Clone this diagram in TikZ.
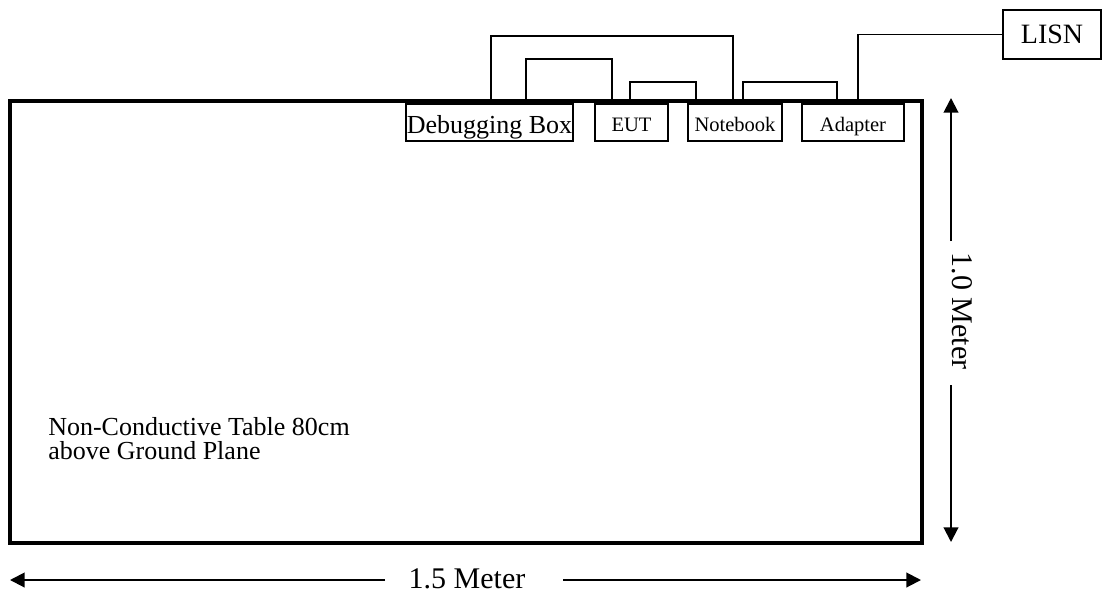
\documentclass[tikz,border=0pt]{standalone}
\usepackage{fontspec}
\setmainfont{Liberation Serif}
\usetikzlibrary{arrows.meta}
\begin{document}
\begin{tikzpicture}[x=0.75pt,y=-0.75pt,
  box/.style={draw,line width=1pt,inner sep=0pt,minimum height=37*0.75pt},
  small/.style={font=\fontsize{15.4}{17}\selectfont,text height=13pt,text depth=0pt},
  cable/.style={draw,line width=1pt},
  dim/.style={line width=1.5pt,-{Triangle[width=11pt,length=11pt]}},
  dimlabel/.style={font=\fontsize{22.5}{25}\selectfont,inner sep=0pt,text depth=0pt}
  ]
\useasboundingbox (0,0) rectangle (1102,594);
% equipment boxes
\node[box,minimum width=167*0.75pt,font=\fontsize{19.5}{21}\selectfont,text height=20pt,text depth=4pt] (dbg) at (489.5,122.5) {Debugging Box};
\node[box,small,minimum width=73*0.75pt] (eut) at (631.5,122.5) {EUT};
\node[box,small,minimum width=94*0.75pt] (nb) at (735,122.5) {Notebook};
\node[box,small,minimum width=102*0.75pt] (adp) at (853,122.5) {Adapter};
\node[box,minimum width=98*0.75pt,minimum height=49*0.75pt,font=\fontsize{21}{23}\selectfont] (lisn) at (1052,34.5) {LISN};
% table
\node[draw,line width=3pt,inner sep=0pt,minimum width=912*0.75pt,minimum height=442*0.75pt] (table) at (466,322) {};
% cables
\draw[cable] (table.north -| 491,0) -- (491,36) -| (table.north -| 733,0);
\draw[cable] (table.north -| 526,0) -- (526,59) -| (table.north -| 612,0);
\draw[cable] (table.north -| 630,0) -- (630,82) -| (table.north -| 696,0);
\draw[cable] (table.north -| 743,0) -- (743,82) -| (table.north -| 837,0);
\draw[cable] (table.north -| 858,0) |- (lisn.west);
% table text
\node[anchor=base west,align=left,inner sep=0pt,font=\fontsize{19.5}{18}\selectfont] (txt) at (48,459) {Non-Conductive Table 80cm\\above Ground Plane};
% vertical dimension
\coordinate (vt) at (951,98);
\coordinate (vg1) at (951,241);
\coordinate (vg2) at (951,385);
\coordinate (vb) at (951,542);
\node[dimlabel,rotate=-90] (vlab) at (962,311) {1.0 Meter};
\draw[dim] (vg1) -- (vt);
\draw[dim] (vg2) -- (vb);
% horizontal dimension
\coordinate (hl) at (10,580);
\coordinate (hg1) at (385,580);
\coordinate (hg2) at (563,580);
\coordinate (hr) at (921,580);
\node[dimlabel] (hlab) at (467,579) {1.5 Meter};
\draw[dim] (hg1) -- (hl);
\draw[dim] (hg2) -- (hr);
\end{tikzpicture}
\end{document}
